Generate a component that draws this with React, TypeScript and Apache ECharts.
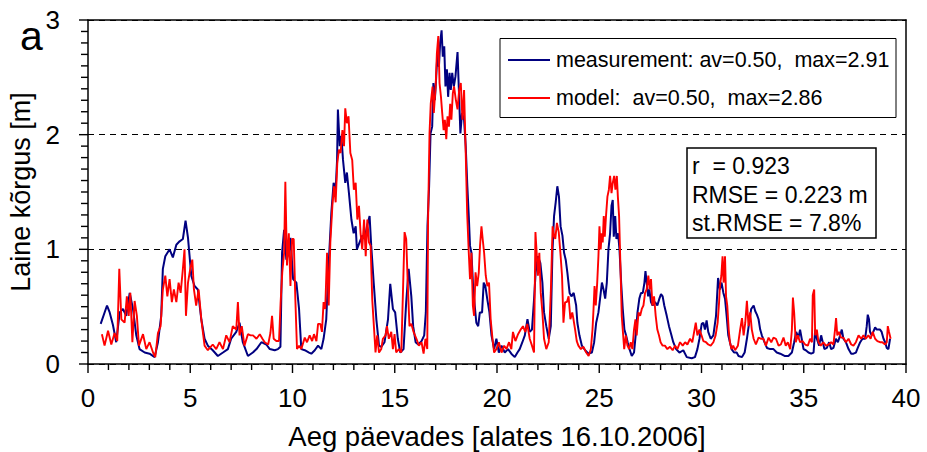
import React, { useEffect, useRef } from "react";
import * as echarts from "echarts";

const FONT = "'Liberation Sans', Arial, sans-serif";

const xTicks = [0, 5, 10, 15, 20, 25, 30, 35, 40];
const yTicks = [0, 1, 2, 3];

const legendLabels = [
  "measurement: av=0.50,  max=2.91",
  "model:  av=0.50,  max=2.86",
];
const statsLines = ["r  = 0.923", "RMSE = 0.223 m", "st.RMSE = 7.8%"];
const panelLetter = "a";
const yTitle = "Laine kõrgus [m]";
const xTitle = "Aeg päevades [alates 16.10.2006]";

const measurement: [number, number][] = [
  [0.62,0.35],[0.93,0.51],[1.06,0.45],[1.22,0.34],[1.38,0.19],[1.55,0.45],[1.71,0.48],[1.87,0.42],[2.04,0.62],[2.2,0.48],[2.36,0.25],[2.52,0.13],[2.77,0.1],[3.01,0.09],[3.26,0.06],[3.42,0.19],[3.58,0.42],[3.66,0.83],[3.78,0.94],[3.99,1.0],[4.15,0.93],[4.32,1.04],[4.48,1.07],[4.64,1.09],[4.77,1.25],[4.89,1.1],[5.05,0.77],[5.21,0.68],[5.37,0.65],[5.54,0.39],[5.7,0.22],[5.86,0.16],[6.1,0.12],[6.35,0.07],[6.6,0.1],[6.84,0.13],[7.0,0.22],[7.25,0.28],[7.41,0.36],[7.57,0.19],[7.82,0.07],
  [8.06,0.1],[8.24,0.13],[8.48,0.19],[8.72,0.17],[8.89,0.13],[9.13,0.12],[9.29,0.13],[9.41,0.15],[9.49,0.97],[9.59,1.17],[9.7,0.91],[9.82,0.97],[9.9,1.1],[10.03,0.74],[10.19,0.71],[10.32,0.48],[10.43,0.13],[10.6,0.12],[10.81,0.1],[10.92,0.09],[11.09,0.12],[11.25,0.16],[11.41,0.13],[11.52,0.22],[11.65,0.39],[11.78,0.91],[11.9,1.32],[12.01,1.58],[12.11,1.52],[12.18,1.78],[12.22,2.22],[12.31,1.9],[12.39,1.99],[12.47,1.78],[12.58,1.58],[12.66,1.67],[12.76,1.49],[12.88,1.26],[12.99,1.14],[13.09,1.2],[13.15,1.0],[13.28,1.06],[13.41,1.12],[13.53,1.09],[13.64,1.2],[13.77,1.29],[13.85,1.03],[13.97,0.71],[14.1,0.39],[14.23,0.16],[14.34,0.15],[14.5,0.19],[14.67,0.39],[14.78,0.7],[14.91,0.48],[15.02,0.45],[15.15,0.22],[15.27,0.1],[15.43,0.13],[15.56,0.54],[15.68,0.83],[15.81,0.59],
  [15.9,0.33],[16.02,0.19],[16.15,0.17],[16.31,0.2],[16.44,0.25],[16.52,0.45],[16.6,1.2],[16.68,1.55],[16.75,2.01],[16.83,2.07],[16.89,2.45],[16.96,2.3],[17.02,2.48],[17.09,2.72],[17.16,2.59],[17.22,2.8],[17.29,2.91],[17.35,2.68],[17.42,2.77],[17.48,2.42],[17.55,2.57],[17.61,2.33],[17.68,2.54],[17.74,2.39],[17.81,2.54],[17.89,2.42],[17.97,2.51],[18.07,2.72],[18.13,2.42],[18.21,2.01],[18.29,2.19],[18.39,2.13],[18.47,1.9],[18.55,1.55],[18.62,1.29],[18.68,1.03],[18.75,0.97],[18.83,0.68],[18.91,0.51],[18.99,0.36],[19.08,0.33],[19.16,0.45],[19.27,0.45],[19.35,0.71],[19.43,0.68],[19.53,0.56],[19.63,0.45],[19.73,0.25],[19.86,0.13],[19.97,0.22],[20.09,0.1],[20.22,0.16],[20.38,0.1],[20.54,0.13],[20.7,0.09],[20.87,0.06],[21.0,0.1],[21.11,0.13],[21.24,0.19],[21.36,0.25],[21.49,0.39],[21.6,0.28],[21.71,0.3],[21.81,0.56],[21.89,0.8],[22.0,0.94],[22.12,0.88],[22.22,0.71],[22.3,0.45],[22.41,0.33],[22.53,0.22],[22.63,0.33],[22.71,0.97],[22.79,1.29],[22.87,1.41],[22.95,1.55],[23.03,1.46],[23.11,1.2],[23.2,1.12],[23.28,0.97],[23.36,0.91],[23.44,0.8],[23.55,0.62],[23.64,0.59],[23.75,0.62],
  [23.87,0.51],[23.93,0.36],[24.03,0.25],[24.15,0.16],[24.31,0.12],[24.48,0.09],[24.64,0.1],[24.75,0.19],[24.85,0.36],[24.96,0.45],[25.04,0.57],[25.13,0.71],[25.21,0.65],[25.29,0.57],[25.37,0.71],[25.45,1.0],[25.53,1.14],[25.6,1.38],[25.66,1.43],[25.71,1.11],[25.78,1.29],[25.84,1.09],[25.92,1.14],[25.99,1.0],[26.07,0.71],[26.15,0.48],[26.23,0.3],[26.31,0.25],[26.39,0.19],[26.48,0.13],[26.59,0.07],[26.7,0.1],[26.78,0.25],[26.87,0.45],[26.96,0.57],[27.04,0.62],[27.13,0.62],[27.21,0.71],[27.26,0.81],[27.32,0.71],[27.39,0.59],[27.45,0.65],[27.53,0.54],[27.61,0.51],[27.73,0.54],[27.84,0.51],[27.94,0.57],[28.02,0.61],[28.1,0.59],[28.18,0.51],[28.3,0.42],[28.41,0.33],[28.53,0.25],[28.62,0.19],[28.76,0.13],[28.92,0.1],[29.11,0.12],[29.28,0.06],[29.52,0.05],[29.68,0.06],[29.8,0.13],[29.9,0.22],[30.01,0.35],[30.09,0.36],[30.17,0.3],[30.25,0.38],[30.33,0.28],[30.45,0.22],[30.58,0.25],[30.71,0.42],[30.81,0.75],[30.9,0.65],[30.98,0.71],[31.07,0.62],[31.15,0.57],[31.23,0.42],[31.31,0.25],[31.39,0.19],[31.47,0.13],[31.59,0.1],[31.72,0.1],
  [31.81,0.07],[31.98,0.06],[32.11,0.1],[32.22,0.22],[32.33,0.36],[32.43,0.48],[32.55,0.51],[32.63,0.46],[32.71,0.43],[32.79,0.39],[32.87,0.3],[32.95,0.25],[33.08,0.19],[33.2,0.14],[33.36,0.13],[33.52,0.13],[33.68,0.1],[33.85,0.09],[34.06,0.07],[34.25,0.07],[34.42,0.1],[34.53,0.19],[34.63,0.28],[34.74,0.23],[34.82,0.3],[34.9,0.22],[34.99,0.13],[35.1,0.12],[35.23,0.1],[35.36,0.09],[35.48,0.1],[35.56,0.3],[35.64,0.22],[35.75,0.16],[35.85,0.25],[35.93,0.19],[36.01,0.13],[36.13,0.14],[36.24,0.19],[36.34,0.13],[36.45,0.14],[36.57,0.22],[36.67,0.19],[36.78,0.25],[36.86,0.3],[36.94,0.22],[37.06,0.19],[37.19,0.13],[37.32,0.09],[37.43,0.09],[37.55,0.1],[37.64,0.14],[37.76,0.19],[37.87,0.22],[38.0,0.22],[38.08,0.33],[38.13,0.43],[38.19,0.39],[38.24,0.28],[38.32,0.25],[38.4,0.28],[38.49,0.32],[38.57,0.3],[38.65,0.3],[38.73,0.3],[38.81,0.28],[38.9,0.22],[38.98,0.19],[39.06,0.14],[39.14,0.13],[39.22,0.22],
];

const model: [number, number][] = [
  [0.68,0.26],[0.81,0.16],[0.98,0.29],[1.14,0.17],[1.3,0.27],[1.43,0.2],[1.53,0.83],[1.63,0.39],[1.79,0.36],[1.9,0.59],[1.99,0.42],[2.07,0.62],[2.17,0.19],[2.28,0.55],[2.39,0.42],[2.49,0.16],[2.69,0.26],[2.85,0.13],[3.01,0.19],[3.18,0.1],[3.29,0.06],[3.42,0.27],[3.55,0.33],[3.66,0.65],[3.78,0.77],[3.88,0.59],[3.99,0.74],[4.1,0.54],[4.2,0.65],[4.32,0.54],[4.43,0.71],[4.53,0.62],[4.64,0.83],[4.72,1.0],[4.79,0.42],[4.89,0.71],[5.0,0.83],[5.1,0.91],[5.18,0.65],[5.29,0.51],[5.41,0.65],[5.54,0.39],[5.7,0.16],[5.86,0.12],[6.1,0.17],[6.27,0.13],[6.43,0.19],[6.6,0.13],[6.76,0.25],[6.92,0.19],[7.08,0.33],[7.25,0.3],[7.33,0.54],[7.41,0.25],[7.52,0.33],[7.65,0.16],[7.82,0.26],
  [7.95,0.25],[8.07,0.25],[8.24,0.22],[8.4,0.26],[8.53,0.22],[8.64,0.19],[8.81,0.17],[8.92,0.27],[9.0,0.42],[9.08,0.22],[9.21,0.2],[9.34,0.2],[9.42,0.54],[9.5,0.8],[9.59,0.97],[9.65,1.59],[9.73,0.86],[9.82,1.14],[9.9,0.68],[9.98,1.09],[10.06,1.09],[10.14,0.56],[10.22,0.13],[10.32,0.16],[10.43,0.13],[10.6,0.23],[10.71,0.19],[10.84,0.25],[10.96,0.2],[11.05,0.26],[11.17,0.2],[11.25,0.35],[11.36,0.35],[11.44,0.28],[11.52,0.54],[11.6,0.48],[11.69,0.97],[11.77,0.51],[11.85,1.06],[11.95,1.38],[12.03,1.55],[12.11,1.41],[12.19,1.75],[12.27,1.87],[12.35,1.84],[12.44,2.04],[12.52,1.9],[12.58,2.23],[12.66,2.1],[12.74,2.16],[12.83,1.84],[12.92,1.78],[13.0,1.52],[13.09,1.58],[13.17,1.26],[13.25,1.38],[13.33,1.14],[13.41,1.0],[13.5,1.26],[13.58,0.94],[13.66,1.26],[13.74,1.06],[13.82,1.03],[13.9,0.56],[13.98,0.33],[14.06,0.1],[14.14,0.25],[14.23,0.1],[14.34,0.13],[14.42,0.22],[14.55,0.25],[14.62,0.33],[14.71,0.22],[14.83,0.28],[14.91,0.13],[14.99,0.26],[15.07,0.1],[15.2,0.13],[15.32,0.1],[15.4,0.62],[15.48,1.15],[15.56,1.09],[15.64,0.68],[15.72,0.33],[15.81,0.35],
  [15.92,0.28],[16.06,0.22],[16.18,0.16],[16.31,0.19],[16.41,0.09],[16.5,0.22],[16.59,0.13],[16.63,1.26],[16.7,2.01],[16.76,2.27],[16.85,2.42],[16.91,2.19],[17.0,2.42],[17.06,2.71],[17.13,2.86],[17.19,2.45],[17.26,2.33],[17.32,2.19],[17.39,2.04],[17.45,2.13],[17.52,1.96],[17.58,2.16],[17.65,2.07],[17.71,2.27],[17.77,2.13],[17.84,2.36],[17.9,2.42],[17.99,2.3],[18.07,2.22],[18.15,2.39],[18.23,2.45],[18.31,2.13],[18.39,2.39],[18.47,1.84],[18.54,1.32],[18.62,0.97],[18.68,0.74],[18.75,0.97],[18.82,0.51],[18.88,0.42],[18.95,0.8],[19.03,0.68],[19.11,0.8],[19.17,1.03],[19.24,1.2],[19.3,1.09],[19.37,0.97],[19.45,0.77],[19.53,0.68],[19.61,0.71],[19.69,0.39],[19.78,0.22],[19.86,0.1],[19.97,0.13],[20.09,0.19],[20.22,0.1],[20.35,0.16],[20.46,0.13],[20.59,0.19],[20.7,0.13],[20.78,0.28],[20.9,0.2],[21.03,0.26],[21.16,0.3],[21.27,0.33],[21.38,0.28],[21.48,0.35],[21.6,0.22],[21.71,0.16],[21.81,0.1],[21.88,1.15],[21.94,0.97],[22.0,0.77],[22.07,0.97],[22.14,0.62],[22.22,0.45],[22.3,0.22],[22.41,0.13],[22.53,0.19],[22.63,0.62],[22.72,1.2],[22.79,1.12],[22.85,1.09],[22.93,1.23],[23.02,1.15],[23.1,0.97],[23.18,0.77],[23.25,0.36],[23.33,0.54],[23.42,0.54],[23.5,0.59],[23.59,0.39],[23.68,0.45],
  [23.74,0.39],[23.82,0.3],[23.9,0.2],[23.98,0.16],[24.1,0.13],[24.23,0.15],[24.36,0.1],[24.48,0.07],[24.59,0.13],[24.67,0.3],[24.72,0.48],[24.77,0.68],[24.83,0.51],[24.9,0.71],[24.96,0.94],[25.01,1.2],[25.07,1.0],[25.12,1.14],[25.17,1.06],[25.22,1.29],[25.27,1.11],[25.33,1.29],[25.4,1.46],[25.47,1.52],[25.53,1.64],[25.6,1.49],[25.66,1.58],[25.73,1.64],[25.79,1.52],[25.86,1.64],[25.91,1.46],[25.97,1.29],[26.04,0.83],[26.1,0.42],[26.17,0.25],[26.22,0.13],[26.3,0.25],[26.38,0.16],[26.46,0.13],[26.54,0.19],[26.62,0.13],[26.7,0.3],[26.77,0.39],[26.83,0.25],[26.92,0.45],[27.0,0.42],[27.08,0.48],[27.16,0.51],[27.24,0.62],[27.32,0.65],[27.4,0.77],[27.47,0.65],[27.53,0.74],[27.6,0.51],[27.68,0.59],[27.76,0.42],[27.84,0.3],[27.92,0.25],[28.0,0.19],[28.1,0.16],[28.21,0.16],[28.33,0.13],[28.46,0.15],[28.59,0.12],[28.71,0.16],[28.82,0.13],[28.95,0.19],[29.08,0.16],[29.2,0.19],[29.31,0.17],[29.44,0.22],[29.55,0.19],[29.64,0.28],[29.72,0.36],[29.8,0.25],[29.9,0.3],[30.0,0.25],[30.09,0.2],[30.22,0.19],[30.33,0.17],[30.45,0.16],[30.58,0.19],[30.69,0.25],[30.79,0.36],[30.86,0.54],[30.9,0.68],[30.97,0.77],[31.03,0.94],[31.08,0.71],[31.15,0.94],[31.2,0.59],[31.26,0.51],[31.33,0.3],[31.39,0.19],[31.47,0.13],[31.55,0.16],[31.64,0.12],
  [31.78,0.16],[31.89,0.3],[31.98,0.4],[32.06,0.25],[32.14,0.36],[32.22,0.55],[32.3,0.33],[32.38,0.45],[32.46,0.3],[32.55,0.22],[32.66,0.17],[32.79,0.23],[32.92,0.22],[33.03,0.22],[33.15,0.16],[33.28,0.23],[33.41,0.19],[33.52,0.23],[33.64,0.22],[33.77,0.16],[33.88,0.17],[34.01,0.23],[34.12,0.16],[34.22,0.19],[34.34,0.13],[34.42,0.3],[34.47,0.58],[34.53,0.45],[34.61,0.19],[34.71,0.25],[34.82,0.19],[34.94,0.2],[35.07,0.17],[35.2,0.16],[35.31,0.22],[35.4,0.19],[35.44,0.6],[35.51,0.65],[35.56,0.25],[35.64,0.3],[35.72,0.19],[35.83,0.16],[35.96,0.19],[36.08,0.16],[36.21,0.17],[36.34,0.19],[36.45,0.17],[36.53,0.3],[36.58,0.4],[36.64,0.25],[36.72,0.28],[36.82,0.23],[36.94,0.23],[37.06,0.19],[37.19,0.22],[37.32,0.17],[37.43,0.16],[37.55,0.19],[37.68,0.25],[37.81,0.22],[37.92,0.25],[38.03,0.22],[38.16,0.25],[38.27,0.22],[38.37,0.28],[38.49,0.22],[38.6,0.2],[38.73,0.19],[38.84,0.19],[38.98,0.17],[39.06,0.19],[39.11,0.33],[39.17,0.28],[39.25,0.22],
];

const seriesColors = ["#000080", "#ff0000"];

// Tick positions along each axis (every day on x, every 0.1 m on y).
const xMinorStep = 1;
const yMinorStep = 0.1;

export default function App() {
  const ref = useRef<HTMLDivElement>(null);

  useEffect(() => {
    if (!ref.current) return;
    const chart = echarts.init(ref.current, undefined, { renderer: "svg" });
    const textStyleBase = { fontFamily: FONT, fill: "#000" };
    const frameLine = { show: true, onZero: false, lineStyle: { color: "#000", width: 1.5 } };
    const hidden = {
      axisTick: { show: false },
      axisLabel: { show: false },
      splitLine: { show: false },
      minorTick: { show: false },
    };

    const xMin = xTicks[0];
    const xMax = xTicks[xTicks.length - 1];
    const yMin = yTicks[0];
    const yMax = yTicks[yTicks.length - 1];

    const xTickData: number[][] = [];
    for (let i = 0; i <= Math.round((xMax - xMin) / xMinorStep); i++) {
      const v = xMin + i * xMinorStep;
      xTickData.push([v, yMin, v % 5 === 0 ? 1 : 0]);
    }
    const yTickData: number[][] = [];
    for (let i = 0; i <= Math.round((yMax - yMin) / yMinorStep); i++) {
      const v = Math.round((yMin + i * yMinorStep) * 10) / 10;
      yTickData.push([xMin, v, i % 10 === 0 ? 1 : 0]);
    }

    chart.setOption({
      animation: false,
      textStyle: { fontFamily: FONT, color: "#000" },
      grid: { left: 88, right: 21, top: 20, bottom: 88, containLabel: false, outerBoundsMode: "none" },
      xAxis: [
        {
          type: "value",
          position: "bottom",
          min: xMin,
          max: xMax,
          interval: 5,
          name: xTitle,
          nameLocation: "middle",
          nameGap: 58,
          nameTextStyle: { fontFamily: FONT, fontSize: 27.5, color: "#000" },
          axisLine: frameLine,
          axisTick: { show: false },
          minorTick: { show: false },
          axisLabel: { fontFamily: FONT, fontSize: 26, color: "#000", margin: 21 },
          splitLine: { show: false },
        },
        {
          type: "value",
          position: "top",
          min: xMin,
          max: xMax,
          axisLine: frameLine,
          ...hidden,
        },
      ],
      yAxis: [
        {
          type: "value",
          position: "left",
          min: yMin,
          max: yMax,
          interval: 1,
          name: yTitle,
          nameLocation: "middle",
          nameGap: 50,
          nameTextStyle: { fontFamily: FONT, fontSize: 27, color: "#000" },
          axisLine: frameLine,
          axisTick: { show: false },
          minorTick: { show: false },
          axisLabel: { fontFamily: FONT, fontSize: 26, color: "#000", margin: 28 },
          splitLine: { show: true, lineStyle: { color: "#000", width: 1, type: [6, 5] } },
        },
        {
          type: "value",
          position: "right",
          min: yMin,
          max: yMax,
          axisLine: frameLine,
          ...hidden,
        },
      ],
      series: [
        {
          name: "xTickMarks",
          type: "custom",
          xAxisIndex: 0,
          yAxisIndex: 0,
          clip: false,
          silent: true,
          data: xTickData,
          renderItem: (params: any, api: any) => {
            const p = api.coord([api.value(0), api.value(1)]);
            const len = api.value(2) === 1 ? 9 : 6;
            return {
              type: "line",
              shape: { x1: p[0], y1: p[1], x2: p[0], y2: p[1] + len },
              style: { stroke: "#000", lineWidth: 1.4 },
            };
          },
          z: 1,
        },
        {
          name: "yTickMarks",
          type: "custom",
          xAxisIndex: 0,
          yAxisIndex: 0,
          clip: false,
          silent: true,
          data: yTickData,
          renderItem: (params: any, api: any) => {
            const p = api.coord([api.value(0), api.value(1)]);
            const len = api.value(2) === 1 ? 9 : 7;
            return {
              type: "line",
              shape: { x1: p[0] - len, y1: p[1], x2: p[0], y2: p[1] },
              style: { stroke: "#000", lineWidth: 1.4 },
            };
          },
          z: 1,
        },
        {
          name: "measurement",
          type: "line",
          xAxisIndex: 0,
          yAxisIndex: 0,
          data: measurement,
          showSymbol: false,
          symbol: "none",
          lineStyle: { color: seriesColors[0], width: 2 },
          itemStyle: { color: seriesColors[0] },
          z: 2,
        },
        {
          name: "model",
          type: "line",
          xAxisIndex: 0,
          yAxisIndex: 0,
          data: model,
          showSymbol: false,
          symbol: "none",
          lineStyle: { color: seriesColors[1], width: 1.9 },
          itemStyle: { color: seriesColors[1] },
          z: 3,
        },
      ],
      graphic: [
        {
          type: "text",
          left: 20,
          top: 15,
          style: { ...textStyleBase, text: panelLetter, fontSize: 41 },
        },
        {
          type: "rect",
          shape: { x: 500, y: 38.5, width: 396, height: 79 },
          style: { fill: "#fff", stroke: "#000", lineWidth: 1 },
          z: 10,
        },
        {
          type: "line",
          shape: { x1: 508, y1: 60, x2: 550, y2: 60 },
          style: { stroke: seriesColors[0], lineWidth: 2 },
          z: 11,
        },
        {
          type: "line",
          shape: { x1: 508, y1: 98, x2: 550, y2: 98 },
          style: { stroke: seriesColors[1], lineWidth: 2 },
          z: 11,
        },
        {
          type: "text",
          x: 556,
          y: 60,
          style: { ...textStyleBase, text: legendLabels[0], fontSize: 21.5, verticalAlign: "middle" },
          z: 11,
        },
        {
          type: "text",
          x: 556,
          y: 98,
          style: { ...textStyleBase, text: legendLabels[1], fontSize: 21.5, verticalAlign: "middle" },
          z: 11,
        },
        {
          type: "rect",
          shape: { x: 687, y: 148, width: 189, height: 90 },
          style: { fill: "#fff", stroke: "#000", lineWidth: 1.5 },
          z: 10,
        },
        ...statsLines.map((t, i) => ({
          type: "text",
          x: 692,
          y: 166 + i * 28.5,
          style: { ...textStyleBase, text: t, fontSize: 23, verticalAlign: "middle" },
          z: 11,
        })),
      ],
    });

    return () => chart.dispose();
  }, []);

  return (
    <div
      ref={ref}
      style={{ position: "fixed", left: 0, top: 0, width: 927, height: 452, background: "#fff" }}
    />
  );
}
